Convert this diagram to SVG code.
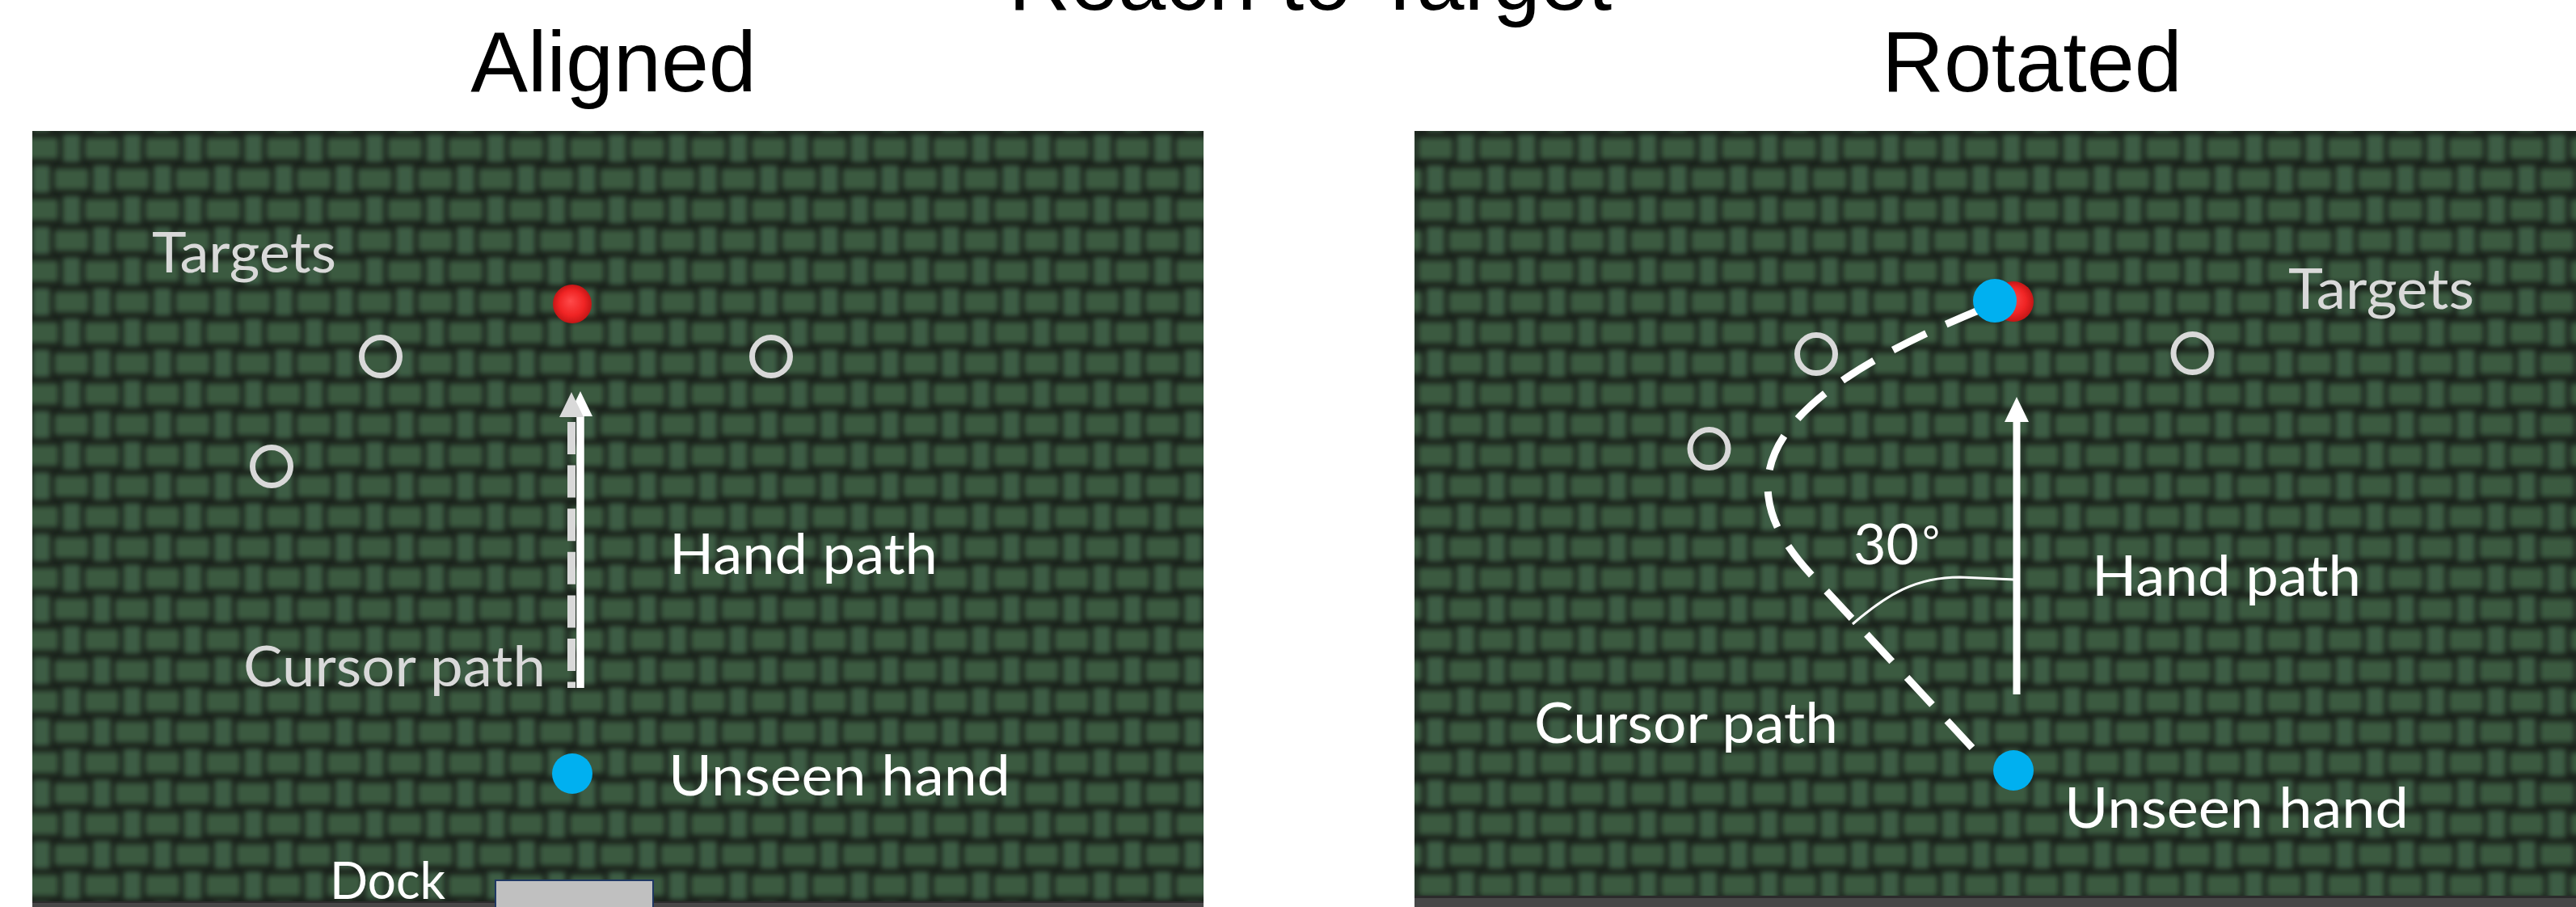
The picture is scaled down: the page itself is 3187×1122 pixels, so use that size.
<svg xmlns="http://www.w3.org/2000/svg" xmlns:xlink="http://www.w3.org/1999/xlink" width="3187" height="1122" viewBox="0 0 3187 1122">
  <style>
    .title { font-family: "Liberation Sans", Arial, sans-serif; font-size: 106px; fill: #000; text-anchor: middle; }
    .lbl { font-family: Lato, "Open Sans", sans-serif; font-size: 70px; fill: #ffffff; }
    .lbl-g { font-family: Lato, "Open Sans", sans-serif; font-size: 70px; fill: #d9d9d9; }
    .ring { fill: none; stroke: #d9d9d9; stroke-width: 7; }
    .hand { fill: #00b0f0; }
    .target { fill: url(#redball); }
    .bar { fill: #474747; }
    .barline { fill: #2b2b2b; }
  </style>
  <defs>
    <filter id="soft" x="-20%" y="-20%" width="140%" height="140%">
      <feGaussianBlur stdDeviation="3.4"/>
    </filter>
    <g id="weave">
      <rect x="4" y="2" width="22" height="34" rx="4" fill="#3e5d44"/>
      <rect x="31.5" y="6" width="42" height="26" rx="4" fill="#3b5a41"/>
      <rect x="41.5" y="40" width="22" height="34" rx="4" fill="#3e5d44"/>
      <rect x="-6" y="44" width="42" height="26" rx="4" fill="#3b5a41"/>
    </g>
    <pattern id="fabric" patternUnits="userSpaceOnUse" x="36" y="50.5" width="75" height="76">
      <rect x="0" y="0" width="75" height="76" fill="#1a221b"/>
      <g filter="url(#soft)">
        <use xlink:href="#weave" x="-75" y="-76"/>
        <use xlink:href="#weave" x="0" y="-76"/>
        <use xlink:href="#weave" x="75" y="-76"/>
        <use xlink:href="#weave" x="-75" y="0"/>
        <use xlink:href="#weave" x="0" y="0"/>
        <use xlink:href="#weave" x="75" y="0"/>
        <use xlink:href="#weave" x="-75" y="76"/>
        <use xlink:href="#weave" x="0" y="76"/>
        <use xlink:href="#weave" x="75" y="76"/>
      </g>
    </pattern>
    <radialGradient id="redball" cx="50%" cy="50%" r="50%" fx="45%" fy="42%">
      <stop offset="0" stop-color="#ff4a4a"/>
      <stop offset="0.65" stop-color="#f02424"/>
      <stop offset="1" stop-color="#c41616"/>
    </radialGradient>
    <marker id="head-w" markerUnits="userSpaceOnUse" viewBox="0 0 31 30" markerWidth="31" markerHeight="30" refX="0" refY="15" orient="auto">
      <path d="M0,0 L31,15 L0,30 z" fill="#ffffff"/>
    </marker>
    <marker id="head-g" markerUnits="userSpaceOnUse" viewBox="0 0 31 30" markerWidth="31" markerHeight="30" refX="0" refY="15" orient="auto-start-reverse">
      <path d="M0,0 L31,15 L0,30 z" fill="#d9d9d9"/>
    </marker>
  </defs>

  <rect x="0" y="0" width="3187" height="1122" fill="#ffffff"/>

  <g id="titles">
    <text class="title" x="1621" y="12">Reach to Target</text>
    <text class="title" x="759" y="113">Aligned</text>
    <text class="title" x="2514" y="113">Rotated</text>
  </g>

  <g id="panel-aligned">
    <rect x="40" y="162" width="1449" height="953" fill="url(#fabric)"/>
    <rect class="bar" x="40" y="1115" width="1449" height="7"/>
    <rect class="barline" x="40" y="1115" width="1449" height="2"/>
  </g>

  <g id="panel-rotated">
    <rect x="1750" y="162" width="1437" height="946" fill="url(#fabric)"/>
    <rect class="bar" x="1750" y="1108" width="1437" height="14"/>
    <rect class="barline" x="1750" y="1108" width="1437" height="3"/>
  </g>

  <g id="connectors">
    <path id="aligned-hand-path" d="M718,851 L718,515" fill="none" stroke="#ffffff" stroke-width="9.5" marker-end="url(#head-w)"/>
    <path id="aligned-cursor-path" d="M707,516 L707,851" fill="none" stroke="#d9d9d9" stroke-width="10" stroke-dasharray="40 13.6" stroke-dashoffset="47.6" marker-start="url(#head-g)"/>
    <path id="rotated-hand-path" d="M2495,859 L2495,522" fill="none" stroke="#ffffff" stroke-width="9" marker-end="url(#head-w)"/>
    <path id="rotated-cursor-path" d="M2450,383 C2300,445 2175,520 2188,615 C2192,650 2215,683 2240,710 L2440,925" fill="none" stroke="#ffffff" stroke-width="9" stroke-dasharray="46 27"/>
    <path id="angle-arc" d="M2292,772 C2335,735 2370,714 2425,714 L2493,717" fill="none" stroke="#ffffff" stroke-width="3"/>
  </g>

  <g id="aligned-targets">
    <circle class="target" cx="708" cy="376" r="24"/>
    <circle class="ring" cx="471" cy="441" r="23.5"/>
    <circle class="ring" cx="954" cy="441" r="23.5"/>
    <circle class="ring" cx="336" cy="577" r="23.5"/>
    <text class="lbl-g" x="188" y="337" textLength="228" lengthAdjust="spacingAndGlyphs">Targets</text>
  </g>

  <g id="aligned-hand">
    <circle class="hand" cx="708" cy="957" r="25"/>
    <text class="lbl" x="827" y="984" textLength="423" lengthAdjust="spacingAndGlyphs">Unseen hand</text>
  </g>

  <g id="aligned-labels">
    <text class="lbl" x="828" y="710" textLength="332" lengthAdjust="spacingAndGlyphs">Hand path</text>
    <text class="lbl-g" x="301" y="849" textLength="374" lengthAdjust="spacingAndGlyphs">Cursor path</text>
  </g>

  <g id="dock">
    <rect x="613" y="1089" width="195" height="40" fill="#c0c0c0" stroke="#1f3864" stroke-width="2"/>
    <text class="lbl" x="408" y="1112" style="font-size:63px" textLength="143" lengthAdjust="spacingAndGlyphs">Dock</text>
  </g>

  <g id="rotated-targets">
    <circle class="target" cx="2491" cy="373" r="25"/>
    <circle class="hand" cx="2468" cy="372" r="27"/>
    <circle class="ring" cx="2247" cy="438" r="23.5"/>
    <circle class="ring" cx="2114.5" cy="555" r="23.5"/>
    <circle class="ring" cx="2712.5" cy="437" r="23.5"/>
    <text class="lbl-g" x="2831" y="382" textLength="230" lengthAdjust="spacingAndGlyphs">Targets</text>
  </g>

  <g id="rotated-hand">
    <circle class="hand" cx="2491" cy="953" r="25"/>
    <text class="lbl" x="2554" y="1024" textLength="426" lengthAdjust="spacingAndGlyphs">Unseen hand</text>
  </g>

  <g id="rotated-labels">
    <text class="lbl" x="2588" y="737" textLength="333" lengthAdjust="spacingAndGlyphs">Hand path</text>
    <text class="lbl" x="1898" y="919" textLength="376" lengthAdjust="spacingAndGlyphs">Cursor path</text>
    <text class="lbl" x="2293" y="698">30<tspan style="font-size:52px" dx="4" dy="-10">°</tspan></text>
  </g>
</svg>
